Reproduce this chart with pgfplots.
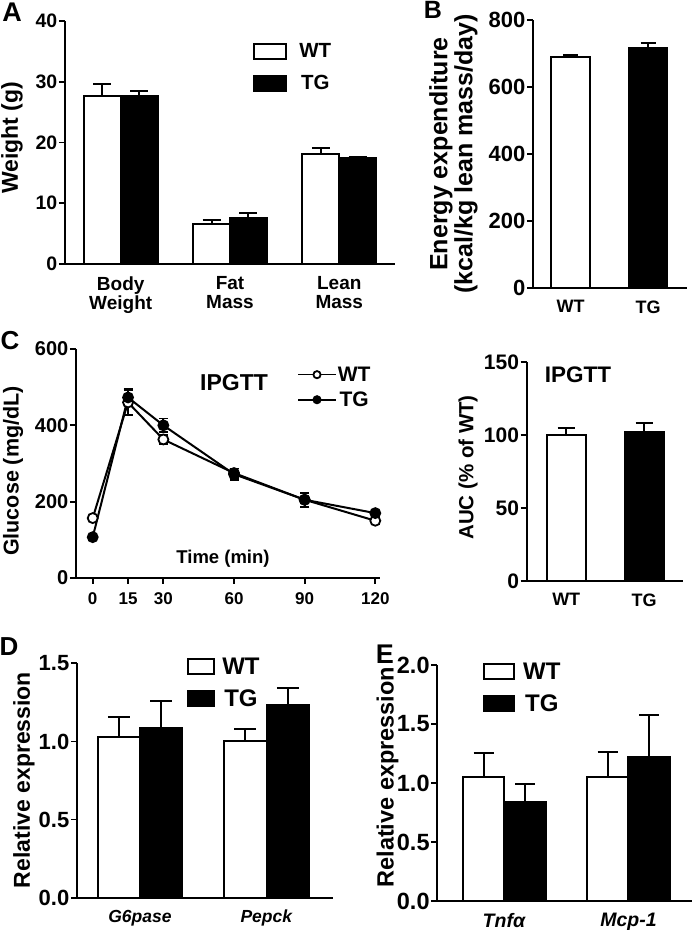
\documentclass[border=0pt]{standalone}
\usepackage{pgfplots}
\pgfplotsset{compat=1.18}
\usepackage{fontspec}
\setmainfont{Liberation Sans}
\newcommand{\fs}[1]{\bfseries\fontsize{#1}{#1}\selectfont}
\pgfplotsset{
  base/.style={
    scale only axis, anchor=south west, clip=false,
    axis x line=bottom, axis y line=left,
    axis line style={-, line width=2pt, black},
    ytick style={line width=1.8pt, black},
    xtick style={draw=none},
    tick align=outside, major tick length=6pt,
    yticklabel style={inner xsep=1.5pt},
    /pgf/number format/assume math mode=true,
    ymin=0,
  },
  wt/.style={ybar, fill=white, draw=black, line width=2pt},
  tg/.style={ybar, fill=black, draw=black, line width=2pt},
  eb/.style={forget plot, draw=none, mark=none, error bars/.cd, y dir=plus, y explicit,
    error mark=|,
    error bar style={line width=2pt, draw=black, solid},
    error mark options={line width=2pt, mark size=#1, draw=black, solid}},
  errc/.style={error bars/.cd, y dir=both, y explicit,
    error mark=|,
    error bar style={line width=1.8pt, black, solid},
    error mark options={line width=1.8pt, mark size=#1, black, solid}},
  boxleg/.style={legend image code/.code={\draw[##1, line width=2pt] (0pt,-7.5pt) rectangle (#1,7.5pt);}},
  lineleg/.style={legend image code/.code={\draw[##1, line width=1.6pt, mark size=3.6pt, mark repeat=2, mark phase=2] plot coordinates {(0pt,0pt) (19pt,0pt) (38pt,0pt)};}},
}
\begin{document}
\begin{tikzpicture}
\path[use as bounding box] (0,0) rectangle (693pt,930pt);

% ---------- Panel A
\begin{axis}[base, at={(65pt,666pt)}, width=330pt, height=243pt,
  xmin=-0.51, xmax=2.51, ymax=40, ytick={0,10,20,30,40},
  xtick={0,1,2}, xticklabels={{Body\\Weight},{Fat\\Mass},{Lean\\Mass}},
  xticklabel style={align=center, font=\fs{19}, yshift=-3pt},
  yticklabel style={font=\fs{19.5}},
  ylabel={Weight (g)}, ylabel style={font=\fs{23}, at={(axis description cs:-0.161,0.52)}, anchor=center},
  legend style={draw=none, fill=none, at={(axis description cs:0.570,0.9115)}, anchor=north west,
    font=\fs{20.5}, row sep=15pt, inner sep=0pt, nodes={inner sep=0pt}, /tikz/every odd column/.style={column sep=12pt}},
  boxleg=32pt]
\addplot[wt, bar width=0.338, bar shift=-0.169] coordinates {(0,27.65) (1,6.58) (2,18.16)};
\addplot[tg, bar width=0.338, bar shift=0.169] coordinates {(0,27.7) (1,7.62) (2,17.4)};
\addplot[eb=9pt] coordinates {(-0.169,27.65) +- (0,1.95) (0.831,6.58) +- (0,0.66) (1.831,18.16) +- (0,0.88)};
\addplot[eb=9pt] coordinates {(0.169,27.7) +- (0,0.8) (1.169,7.62) +- (0,0.83) (2.169,17.4) +- (0,0.15)};
\legend{WT,TG}
\end{axis}

% ---------- Panel B
\begin{axis}[base, at={(533pt,642pt)}, width=154pt, height=268pt,
  xmin=-0.484, xmax=1.503, ymax=800, ytick={0,200,400,600,800},
  xtick={0,1}, xticklabels={WT,TG},
  xticklabel style={font=\fs{18}, yshift=-3pt},
  yticklabel style={font=\fs{22}},
  ylabel={Energy expenditure\\(kcal/kg lean mass/day)},
  ylabel style={font=\bfseries\fontsize{25}{25}\selectfont, align=center, at={(axis description cs:-0.516,0.5)}, anchor=center}]
\addplot[wt, bar width=0.5, bar shift=0] coordinates {(0,690)};
\addplot[tg, bar width=0.5, bar shift=0] coordinates {(1,717)};
\addplot[eb=7.5pt] coordinates {(0,690) +- (0,5) (1,717) +- (0,13)};
\end{axis}

% ---------- Panel C (line)
\begin{axis}[base, at={(76pt,352pt)}, width=304pt, height=229pt,
  xmin=-7.1, xmax=122, ymax=600, ytick={0,200,400,600},
  xtick={0,15,30,60,90,120},
  xtick style={draw=black, line width=1.8pt},
  xticklabel style={font=\fs{17}, yshift=-5pt},
  yticklabel style={font=\fs{20}},
  ylabel={Glucose (mg/dL)}, ylabel style={font=\fs{21.5}, at={(axis description cs:-0.207,0.467)}, anchor=center},
  xlabel={Time (min)}, xlabel style={font=\fs{18.5}, at={(axis description cs:0.4836,0.085)}, anchor=center},
  legend style={draw=none, fill=none, at={(axis description cs:0.727,0.928)}, anchor=north west,
    font=\fs{21}, row sep=7pt, inner sep=0pt, nodes={inner sep=1pt}},
  lineleg]
\addplot[black, line width=2pt, mark=*, mark options={fill=white, line width=1.8pt}, mark size=5pt, errc=4.5pt]
  coordinates {(0,157) +- (0,4) (15,460) +- (0,32) (30,363) +- (0,12) (60,275) +- (0,12) (90,205) +- (0,18) (120,150) +- (0,8)};
\addplot[black, line width=2pt, mark=*, mark options={fill=black, line width=1.8pt}, mark size=5pt, errc=4.5pt]
  coordinates {(0,107) +- (0,5) (15,473) +- (0,22) (30,400) +- (0,18) (60,272) +- (0,15) (90,205) +- (0,18) (120,170) +- (0,6)};
\legend{WT,TG}
\node[font=\fs{23}, anchor=center] at (axis cs:60,511) {IPGTT};
\end{axis}

% ---------- Panel C (AUC)
\begin{axis}[base, at={(526.7pt,349pt)}, width=156.3pt, height=218.7pt,
  xmin=-0.508, xmax=1.50, ymax=150, ytick={0,50,100,150},
  xtick={0,1}, xticklabels={WT,TG},
  xticklabel style={font=\fs{18}, yshift=-3pt},
  yticklabel style={font=\fs{21}},
  ylabel={AUC (\% of WT)}, ylabel style={font=\fs{20.5}, at={(axis description cs:-0.375,0.519)}, anchor=center}]
\addplot[wt, bar width=0.5, bar shift=0] coordinates {(0,100.1)};
\addplot[tg, bar width=0.5, bar shift=0] coordinates {(1,102.4)};
\addplot[eb=8.5pt] coordinates {(0,100.1) +- (0,4.6) (1,102.4) +- (0,5.8)};
\node[font=\fs{22.5}, anchor=center] at (axis cs:0.15,141.6) {IPGTT};
\end{axis}

% ---------- Panel D
\begin{axis}[base, at={(77pt,32.3pt)}, width=256pt, height=234.4pt,
  xmin=-0.497, xmax=1.523, ymax=1.5, ytick={0,0.5,1.0,1.5},
  yticklabel style={font=\fs{22}, /pgf/number format/.cd, fixed, fixed zerofill, precision=1},
  xtick={0,1}, xticklabels={\textit{G6pase},\textit{Pepck}},
  xticklabel style={font=\fs{17.5}, yshift=-3pt},
  ylabel={Relative expression}, ylabel style={font=\fs{23}, at={(axis description cs:-0.207,0.502)}, anchor=center},
  legend style={draw=none, fill=none, at={(axis description cs:0.43,1.0247)}, anchor=north west,
    font=\fs{24}, row sep=14pt, inner sep=0pt, nodes={inner sep=0pt}, /tikz/every odd column/.style={column sep=7pt}},
  boxleg=26pt]
\addplot[wt, bar width=0.335, bar shift=-0.1675] coordinates {(0,1.03) (1,1.005)};
\addplot[tg, bar width=0.335, bar shift=0.1675] coordinates {(0,1.085) (1,1.233)};
\addplot[eb=11pt] coordinates {(-0.1675,1.03) +- (0,0.125) (0.8325,1.005) +- (0,0.072)};
\addplot[eb=11pt] coordinates {(0.1675,1.085) +- (0,0.175) (1.1675,1.233) +- (0,0.107)};
\legend{WT,TG}
\end{axis}

% ---------- Panel E
\begin{axis}[base, at={(437.3pt,29pt)}, width=254.4pt, height=236pt,
  xmin=-0.539, xmax=1.509, ymax=2.0, ytick={0,0.5,1.0,1.5,2.0},
  yticklabel style={font=\fs{23.5}, /pgf/number format/.cd, fixed, fixed zerofill, precision=1},
  xtick={0,1}, xticklabels={\textit{Tnfα},\textit{Mcp-1}},
  xticklabel style={font=\fs{19.5}, yshift=-3pt},
  ylabel={Relative expression}, ylabel style={font=\fs{23.5}, at={(axis description cs:-0.196,0.525)}, anchor=center},
  legend style={draw=none, fill=none, at={(axis description cs:0.1796,1.0106)}, anchor=north west,
    font=\fs{24}, row sep=14pt, inner sep=0pt, nodes={inner sep=0pt}, /tikz/every odd column/.style={column sep=8pt}},
  boxleg=30pt]
\addplot[wt, bar width=0.334, bar shift=-0.167] coordinates {(0,1.048) (1,1.048)};
\addplot[tg, bar width=0.334, bar shift=0.167] coordinates {(0,0.842) (1,1.218)};
\addplot[eb=10pt] coordinates {(-0.167,1.048) +- (0,0.204) (0.833,1.048) +- (0,0.212)};
\addplot[eb=10pt] coordinates {(0.167,0.842) +- (0,0.147) (1.167,1.218) +- (0,0.358)};
\legend{WT,TG}
\end{axis}

% panel letters
\node[font=\fs{27}] at (12pt,918pt) {A};
\node[font=\fs{25}] at (433pt,920pt) {B};
\node[font=\fs{26}] at (10pt,589pt) {C};
\node[font=\fs{26}] at (9pt,283pt) {D};
\node[font=\fs{27}] at (385pt,276pt) {E};
\end{tikzpicture}
\end{document}
